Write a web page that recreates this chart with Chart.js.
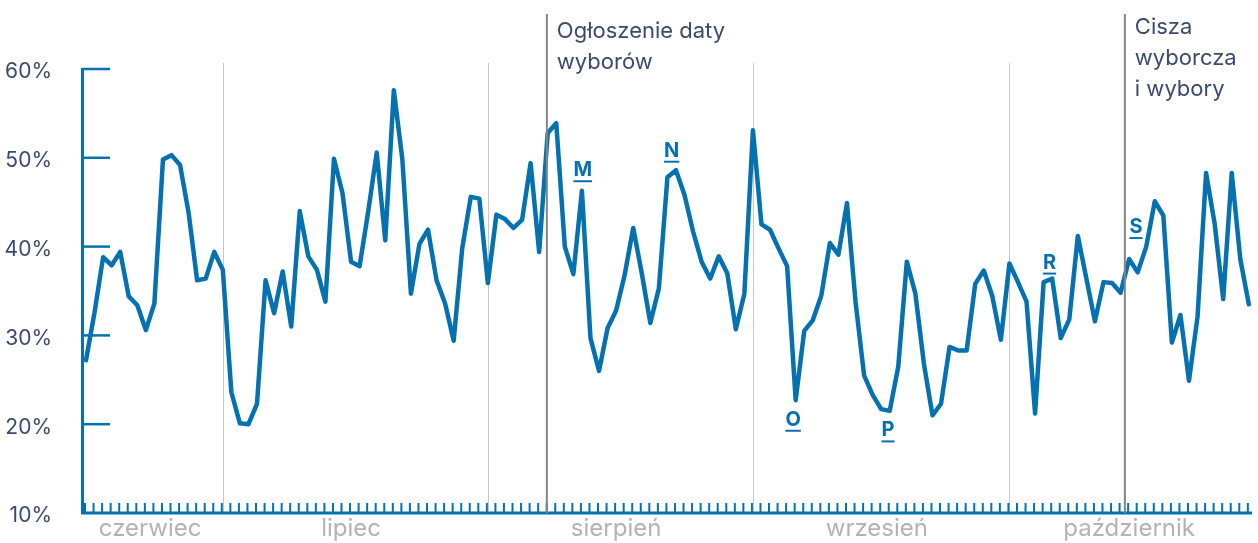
<!DOCTYPE html>
<html>
<head>
<meta charset="utf-8">
<script src="https://cdn.jsdelivr.net/npm/chart.js@4.4.0/dist/chart.umd.min.js"></script>
<style>
    html, body { margin: 0; padding: 0; background: #fff; }
    #wrap { width: 1258px; height: 543px; }
</style>
</head>
<body>
<div id="wrap"><canvas id="lineChart"></canvas></div>
<script>
// daily share, 15 June - 29 October
var share = [
    27.2, 32.6, 38.8, 37.9, 39.4, 34.4, 33.4, 30.6, 33.6, 49.8,
    50.3, 49.2, 43.8, 36.2, 36.4, 39.4, 37.4, 23.6, 20.1, 20.0,
    22.3, 36.2, 32.5, 37.2, 31.0, 44.0, 38.9, 37.4, 33.8, 49.9,
    46.0, 38.3, 37.8, 43.9, 50.6, 40.7, 57.6, 49.8, 34.7, 40.3,
    41.9, 36.2, 33.6, 29.4, 39.8, 45.6, 45.4, 35.9, 43.6, 43.1,
    42.1, 43.0, 49.4, 39.4, 52.8, 53.9, 40.0, 36.9, 46.3, 29.7,
    26.0, 30.8, 32.8, 36.8, 42.1, 37.0, 31.4, 35.3, 47.8, 48.6,
    45.8, 41.7, 38.3, 36.4, 38.9, 37.0, 30.7, 34.7, 53.1, 42.5,
    41.9, 39.8, 37.8, 22.7, 30.5, 31.7, 34.5, 40.4, 39.1, 44.9,
    33.8, 25.5, 23.3, 21.7, 21.5, 26.5, 38.3, 34.7, 26.8, 21.0,
    22.3, 28.7, 28.3, 28.3, 35.8, 37.3, 34.4, 29.5, 38.1, 36.0,
    33.8, 21.2, 36.0, 36.4, 29.7, 31.8, 41.2, 36.4, 31.6, 36.0,
    35.9, 34.8, 38.6, 37.1, 40.0, 45.1, 43.5, 29.2, 32.3, 24.9,
    32.1, 48.3, 42.6, 34.1, 48.3, 38.6, 33.5
];

// month names and number of days shown in each
var monthNames = ['czerwiec', 'lipiec', 'sierpień', 'wrzesień', 'październik'];
var monthDays = [16, 31, 31, 30, 29];

var yTicks = [10, 20, 30, 40, 50, 60];

// events (day index) with their captions
var eventDays = [53.9, 121.5];
var eventTexts = [['Ogłoszenie daty', 'wyborów'], ['Cisza', 'wyborcza', 'i wybory']];

// letter markers (day index, value)
var markLetters = ['M', 'N', 'O', 'P', 'R', 'S'];
var markDays = [58.1, 68.5, 82.7, 93.8, 112.7, 122.8];
var markValues = [48.6, 50.8, 20.5, 19.3, 38.2, 42.2];

var BLUE = '#0671b0';
var DARK = '#3c4a6b';
var FONT = 'Inter, "Noto Sans", sans-serif';

var points = share.map(function (v, i) { return {x: i, y: v}; });

// month starts
var monthStart = [];
var acc = 0;
monthDays.forEach(function (d) { monthStart.push(acc); acc += d; });

var decor = {
    id: 'decor',
    beforeDatasetsDraw: function (chart) {
        var ctx = chart.ctx, x = chart.scales.x, y = chart.scales.y, area = chart.chartArea;
        ctx.save();
        // month separators
        ctx.strokeStyle = '#c8c8c8';
        ctx.lineWidth = 1;
        monthStart.slice(1).forEach(function (d) {
            var px = Math.round(x.getPixelForValue(d)) + 0.5;
            ctx.beginPath();
            ctx.moveTo(px, 63);
            ctx.lineTo(px, area.bottom);
            ctx.stroke();
        });
        // y ticks inside the plot
        ctx.strokeStyle = BLUE;
        ctx.lineWidth = 2.5;
        yTicks.forEach(function (t) {
            if (t === 10) return;
            var py = y.getPixelForValue(t);
            ctx.beginPath();
            ctx.moveTo(area.left, py);
            ctx.lineTo(area.left + 28, py);
            ctx.stroke();
        });
        ctx.restore();
    },
    afterDatasetsDraw: function (chart) {
        var ctx = chart.ctx, x = chart.scales.x, y = chart.scales.y, area = chart.chartArea;
        ctx.save();
        // bottom axis with a tick for every day
        ctx.strokeStyle = BLUE;
        ctx.lineWidth = 3;
        ctx.beginPath();
        ctx.moveTo(area.left - 1, area.bottom);
        ctx.lineTo(area.right, area.bottom);
        ctx.stroke();
        ctx.lineWidth = 2;
        for (var i = 0; i < share.length; i++) {
            var px = x.getPixelForValue(i) - 1;
            ctx.beginPath();
            ctx.moveTo(px, area.bottom - 10);
            ctx.lineTo(px, area.bottom);
            ctx.stroke();
        }
        // month labels
        ctx.font = '24px ' + FONT;
        ctx.fillStyle = '#b3b3b3';
        ctx.textAlign = 'center';
        ctx.textBaseline = 'middle';
        monthNames.forEach(function (m, k) {
            var mid = monthStart[k] + (monthDays[k] - 1) / 2;
            ctx.fillText(m, x.getPixelForValue(mid), 529);
        });
        // event lines and captions
        eventDays.forEach(function (d, k) {
            var px = x.getPixelForValue(d);
            ctx.strokeStyle = '#858585';
            ctx.lineWidth = 2;
            ctx.beginPath();
            ctx.moveTo(px, 14);
            ctx.lineTo(px, area.bottom);
            ctx.stroke();
            ctx.fillStyle = DARK;
            ctx.font = '22px ' + FONT;
            ctx.textAlign = 'left';
            ctx.textBaseline = 'alphabetic';
            var top = k === 0 ? 38 : 34;
            eventTexts[k].forEach(function (line, j) {
                ctx.fillText(line, px + 10, top + j * 31);
            });
        });
        // letter markers
        ctx.font = 'bold 20px ' + FONT;
        ctx.fillStyle = BLUE;
        ctx.strokeStyle = BLUE;
        ctx.textAlign = 'center';
        ctx.textBaseline = 'middle';
        markLetters.forEach(function (t, k) {
            var px = x.getPixelForValue(markDays[k]);
            var py = y.getPixelForValue(markValues[k]);
            ctx.fillText(t, px, py);
            var w = ctx.measureText(t).width;
            ctx.lineWidth = 2;
            ctx.beginPath();
            ctx.moveTo(px - w / 2, py + 11);
            ctx.lineTo(px + w / 2, py + 11);
            ctx.stroke();
        });
        ctx.restore();
    }
};

var ctxL = document.getElementById('lineChart').getContext('2d');
var myLineChart = new Chart(ctxL, {
    type: 'line',
    data: {
        datasets: [{
            data: points,
            borderColor: BLUE,
            borderWidth: 4.5,
            borderJoinStyle: 'round',
            borderCapStyle: 'round',
            pointRadius: 0,
            tension: 0,
            fill: false
        }]
    },
    options: {
        responsive: true,
        maintainAspectRatio: false,
        animation: false,
        layout: {padding: {top: 69, right: 6, bottom: 30, left: 0}},
        plugins: {legend: {display: false}, tooltip: {enabled: false}},
        scales: {
            x: {
                type: 'linear',
                display: false,
                min: -0.468,
                max: 136.37
            },
            y: {
                min: 10,
                max: 60,
                afterFit: function (s) {
                    s.width = 82;
                    s.paddingTop = 0;
                    s.paddingBottom = 0;
                },
                afterBuildTicks: function (s) {
                    s.ticks = yTicks.map(function (v) { return {value: v}; });
                },
                grid: {display: false, drawTicks: false},
                border: {display: true, color: BLUE, width: 3},
                ticks: {
                    padding: 30,
                    labelOffset: 3,
                    color: DARK,
                    font: {family: FONT, size: 21},
                    callback: function (v) { return v + '%'; }
                }
            }
        }
    },
    plugins: [decor]
});
</script>
</body>
</html>
